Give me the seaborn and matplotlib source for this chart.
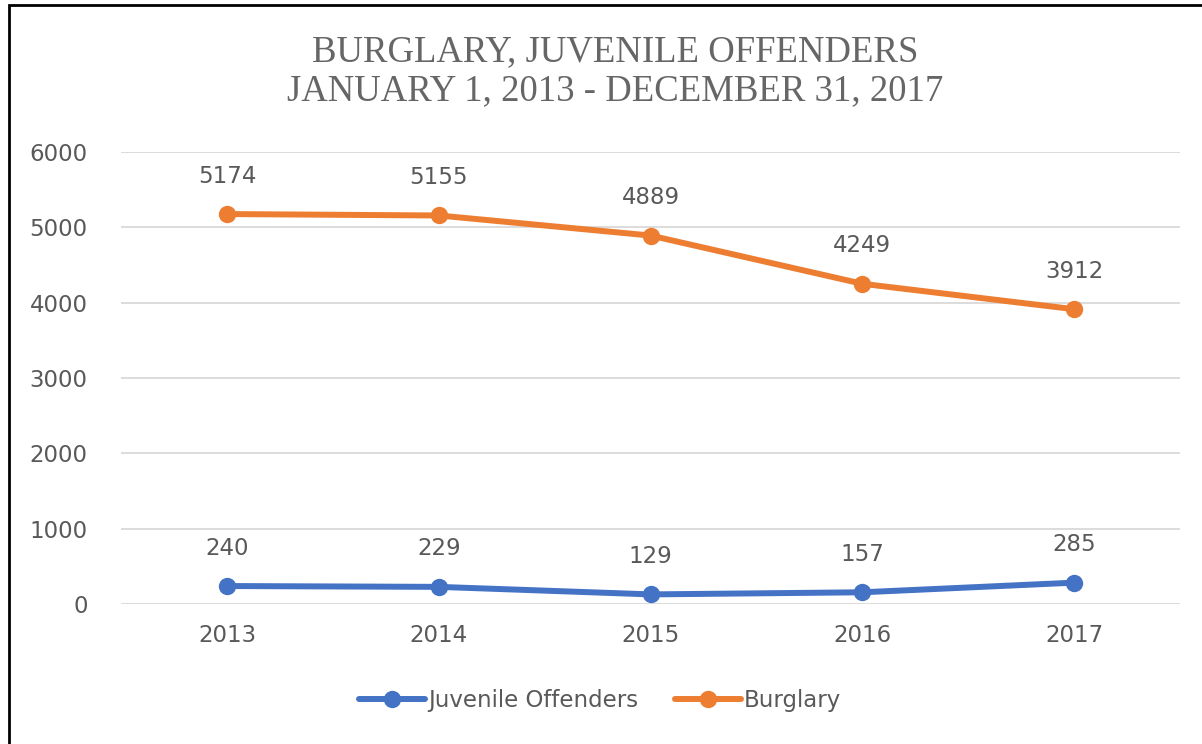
import matplotlib
matplotlib.use("Agg")
import matplotlib.pyplot as plt
import seaborn as sns
import pandas as pd
from matplotlib.patches import Rectangle

years = ["2013", "2014", "2015", "2016", "2017"]
juvenile = [240, 229, 129, 157, 285]
burglary = [5174, 5155, 4889, 4249, 3912]
series_names = ["Juvenile Offenders", "Burglary"]
colors = ["#4472C4", "#ED7D31"]

df = pd.DataFrame({
    "year": years * 2,
    "value": juvenile + burglary,
    "series": [series_names[0]] * len(years) + [series_names[1]] * len(years),
})

sns.set_style("white")
plt.rcParams["font.family"] = ["DejaVu Sans"]
text_gray = "#595959"

fig = plt.figure(figsize=(12.02, 7.44), dpi=100)
ax = fig.add_axes([0.1007, 0.188, 0.881, 0.608])

sns.lineplot(data=df, x="year", y="value", hue="series", palette=colors,
             marker="o", markersize=12.5, markeredgewidth=0, linewidth=4.3,
             sort=False, ax=ax, legend=False)

for vals in (juvenile, burglary):
    for i, v in enumerate(vals):
        ax.annotate(f"{v}", (i, v), xytext=(0, 19), textcoords="offset points",
                    ha="center", va="bottom", fontsize=16.5, color=text_gray)

ax.set_xlim(-0.5, 4.5)
ax.set_ylim(0, 6000)
ax.set_yticks(range(0, 6001, 1000))
ax.yaxis.grid(True, color="#D9D9D9", linewidth=1.3)
ax.set_axisbelow(True)
for s in ax.spines.values():
    s.set_visible(False)
ax.tick_params(axis="both", length=0, labelsize=16.5, labelcolor=text_gray)
ax.tick_params(axis="x", pad=14)
ax.tick_params(axis="y", pad=24)
ax.set_xlabel("")
ax.set_ylabel("")

fig.text(0.512, 0.904, "BURGLARY, JUVENILE OFFENDERS\nJANUARY 1, 2013 - DECEMBER 31, 2017",
         ha="center", va="center", fontsize=26.5, color="#666666",
         family=["Liberation Serif"], linespacing=1.15)

handles = [plt.Line2D([0], [0], color=c, linewidth=4.3, marker="o", markersize=12.5,
                      markeredgewidth=0) for c in colors]
fig.legend(handles, series_names, loc="center", bbox_to_anchor=(0.499, 0.059), ncol=2,
           frameon=False, fontsize=16.5, labelcolor=text_gray, handlelength=2.9,
           handletextpad=0.1, columnspacing=1.6)

fig.patches.append(Rectangle((0.0075, -0.05), 1.05, 1.043,
                             transform=fig.transFigure, fill=False,
                             edgecolor="black", linewidth=2, figure=fig))

fig.savefig("out.png", dpi=100)
